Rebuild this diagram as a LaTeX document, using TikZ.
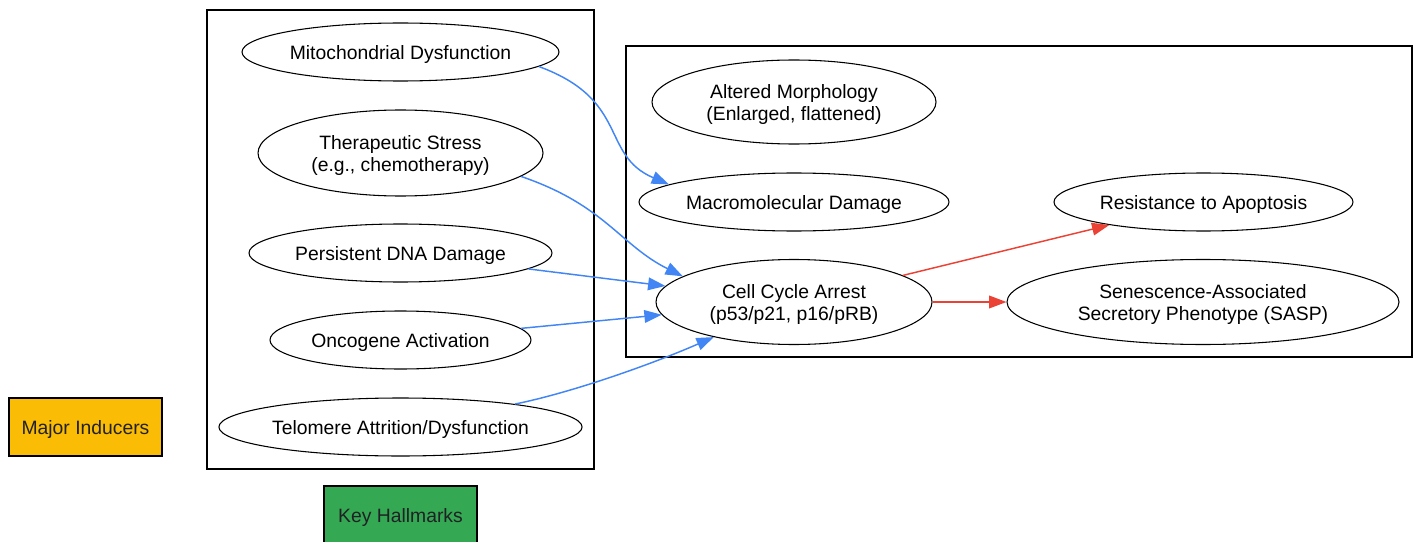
\documentclass[tikz,border=0pt]{standalone}
\usepackage{fontspec}
\setmainfont{Liberation Sans}
\usepackage{tikz}
\usetikzlibrary{shapes.geometric,arrows.meta}

\definecolor{gblue}{HTML}{4285F4}
\definecolor{gred}{HTML}{EA4335}
\definecolor{gyellow}{HTML}{FBBC05}
\definecolor{ggreen}{HTML}{34A853}
\definecolor{gtext}{HTML}{202124}

\tikzset{
	oval/.style 2 args={ellipse,draw=black,line width=0.8pt,inner sep=0pt,
		minimum width=#1*0.75pt,minimum height=#2*0.75pt,align=center,
		text depth=0pt,font=\fontsize{14.5}{16.5}\selectfont},
	keybox/.style={rectangle,draw=black,line width=1pt,inner sep=0pt,
		minimum width=114.75pt,minimum height=43.5pt,text=gtext,
		text depth=0pt,font=\fontsize{14.5}{16.5}\selectfont},
	cluster/.style={draw=black,line width=1pt},
	induce/.style={gblue,line width=1.1pt,-{Triangle[length=13pt,width=9.5pt]}},
	hallmark/.style={gred,line width=1.1pt,-{Triangle[length=13pt,width=9.5pt]}}
}

\begin{document}
\begin{tikzpicture}[x=0.75pt,y=-0.75pt]
		\useasboundingbox (0,0) rectangle (1418,542);
		% groups
		\draw [cluster] (207,10) rectangle (594,469);
		\draw [cluster] (626,46) rectangle (1412,357);
		% legend
		\node [keybox,fill=gyellow] (inducers) at (85.5,427) {Major Inducers};
		\node [keybox,fill=ggreen] (hallmarks) at (400.5,515) {Key Hallmarks};
		% inducers
		\node [oval={317}{58}] (mito) at (400.5,52) {Mitochondrial Dysfunction};
		\node [oval={285}{86}] (stress) at (400.5,153) {Therapeutic Stress\\(e.g., chemotherapy)};
		\node [oval={303}{58}] (dna) at (400.5,253) {Persistent DNA Damage};
		\node [oval={261}{58}] (onco) at (400.5,340) {Oncogene Activation};
		\node [oval={361}{58}] (telo) at (400.5,427) {Telomere Attrition/Dysfunction};
		% hallmarks
		\node [oval={284}{84}] (morph) at (794,102) {Altered Morphology\\(Enlarged, flattened)};
		\node [oval={310}{58}] (macro) at (794,202) {Macromolecular Damage};
		\node [oval={276}{85}] (arrest) at (794,302) {Cell Cycle Arrest\\(p53/p21, p16/pRB)};
		\node [oval={299}{58}] (apop) at (1203.5,202) {Resistance to Apoptosis};
		\node [oval={392}{85}] (sasp) at (1203,302) {Senescence-Associated\\Secretory Phenotype (SASP)};
		% edges
		\draw [induce] (mito.-6) .. controls (630,100) and (600,155) .. (macro.172);
		\draw [induce] (stress.-11) .. controls (605,205) and (620,245) .. (arrest.167);
		\draw [induce] (dna) -- (arrest);
		\draw [induce] (onco) -- (arrest);
		\draw [induce] (telo) .. controls (570,393) and (650,365) .. (arrest);
		\draw [hallmark] (arrest) -- (apop);
		\draw [hallmark] (arrest) -- (sasp);
\end{tikzpicture}
\end{document}
